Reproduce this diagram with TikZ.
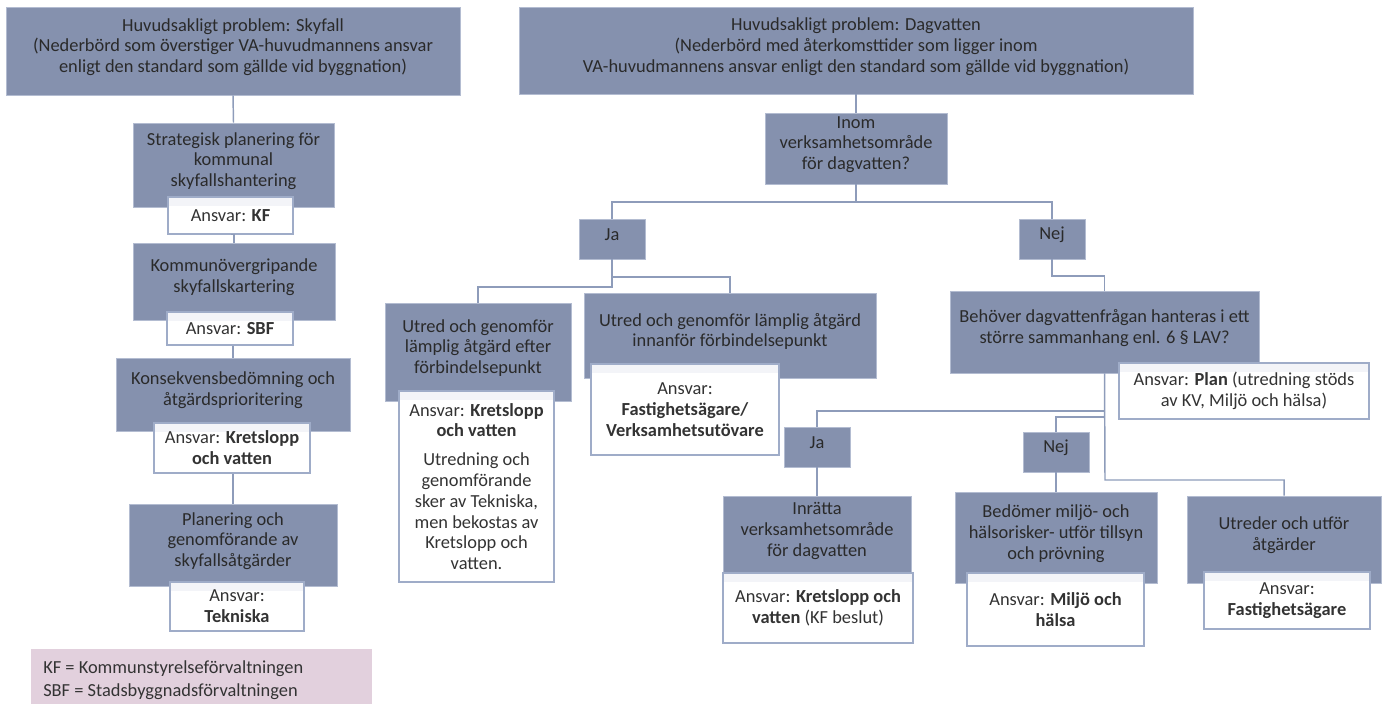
\documentclass[tikz,border=0pt]{standalone}
\usepackage{fontspec}
\setmainfont{Carlito}
\definecolor{boxblue}{HTML}{8591AE}
\definecolor{boxedge}{HTML}{B3BCD1}
\definecolor{linecol}{HTML}{8E9CBA}
\definecolor{whiteedge}{HTML}{9FACC8}
\definecolor{bandcol}{HTML}{F3F4F8}
\definecolor{legendcol}{HTML}{E2D0DD}
\definecolor{txtdark}{HTML}{2A2A2A}
\definecolor{txtgray}{HTML}{333333}
\tikzset{
  bluebox/.style={draw=boxedge, line width=0.6pt, fill=boxblue, inner sep=0pt, rectangle},
  whitebox/.style={draw=whiteedge, line width=1.1pt, fill=white, inner sep=0pt, rectangle,
    path picture={\fill[bandcol] (path picture bounding box.north west) rectangle ([yshift=-7pt]path picture bounding box.north east);}},
  legendbox/.style={draw=none, fill=legendcol, inner sep=0pt, rectangle},
  btext/.style={align=center, yshift=3pt, inner sep=0pt, text=txtdark, font=\fontsize{13.8}{15.6}\selectfont},
  wtext/.style={align=center, inner sep=0pt, text=txtgray, font=\fontsize{13.8}{15.6}\selectfont},
  ltext/.style={align=left, inner sep=0pt, text=txtgray, font=\fontsize{13.8}{17}\selectfont},
  conn/.style={draw=linecol, line width=1.1pt},
}
% #1 box style, #2 text style, #3 name, #4 x1, #5 y1, #6 x2, #7 y2, #8 text
\newcommand\mkbox[8]{%
  \node[#1, minimum width={(#6-#4)*0.75pt}, minimum height={(#7-#5)*0.75pt},
        label={[#2]center:{#8}}] (#3) at ({(#4+#6)/2},{(#5+#7)/2}) {};}
\begin{document}
\begin{tikzpicture}[x=0.75pt,y=-0.75pt]
\useasboundingbox (0,0) rectangle (1387,704);

% ---------- coordinates for branch points ----------
\coordinate (b1) at (856,202);
\coordinate (ja1r) at (612,277);
\coordinate (ja1l) at (612,287);
\coordinate (n1) at (1052,276);
\coordinate (bj) at (1105,411);
\coordinate (bn) at (1105,417);
\coordinate (bq) at (1105,480);

% ---------- left column boxes (blue) ----------
\mkbox{bluebox}{btext}{sky}{6}{7}{460}{95}{Huvudsakligt problem: Skyfall\\(Nederbörd som överstiger VA-huvudmannens ansvar\\enligt den standard som gällde vid byggnation)}
\mkbox{bluebox}{btext}{strat}{133}{123}{334}{207}{Strategisk planering för\\kommunal\\skyfallshantering}
\mkbox{bluebox}{btext}{kom}{133}{243}{335}{320}{Kommunövergripande\\skyfallskartering}
\mkbox{bluebox}{btext}{kons}{116}{358}{350}{431}{Konsekvensbedömning och\\åtgärdsprioritering}
\mkbox{bluebox}{btext}{plan}{129}{504}{337}{586}{Planering och\\genomförande av\\skyfallsåtgärder}

% ---------- right part boxes (blue) ----------
\mkbox{bluebox}{btext}{dag}{519}{7}{1193}{94}{Huvudsakligt problem: Dagvatten\\(Nederbörd med återkomsttider som ligger inom\\VA-huvudmannens ansvar enligt den standard som gällde vid byggnation)}
\mkbox{bluebox}{btext}{inom}{765}{113}{947}{184}{Inom\\verksamhetsområde\\för dagvatten?}
\mkbox{bluebox}{btext}{ja1}{579}{219}{645}{259}{Ja}
\mkbox{bluebox}{btext}{nej1}{1019}{219}{1085}{259}{Nej}
\mkbox{bluebox}{btext}{utefter}{385}{303}{571}{401}{Utred och genomför\\lämplig åtgärd efter\\förbindelsepunkt}
\mkbox{bluebox}{btext}{utinn}{584}{293}{876}{378}{Utred och genomför lämplig åtgärd\\innanför förbindelsepunkt}
\mkbox{bluebox}{btext}{beh}{950}{291}{1259}{373}{Behöver dagvattenfrågan hanteras i ett\\större sammanhang enl. 6 § LAV?}
\mkbox{bluebox}{btext}{ja2}{784}{427}{850}{467}{Ja}
\mkbox{bluebox}{btext}{nej2}{1023}{432}{1089}{472}{Nej}
\mkbox{bluebox}{btext}{inr}{723}{496}{911}{574}{Inrätta\\verksamhetsområde\\för dagvatten}
\mkbox{bluebox}{btext}{bed}{955}{492}{1157}{583}{Bedömer miljö- och\\hälsorisker- utför tillsyn\\och prövning}
\mkbox{bluebox}{btext}{utr}{1187}{496}{1381}{583}{Utreder och utför\\åtgärder}

% ---------- connectors ----------
\draw[conn] (sky.south) -- (strat.north);
\draw[conn] (dag.south) -- (inom.north);
\draw[conn] (inom.south) -- (b1);
\draw[conn] (ja1.north) |- (b1) -| (nej1.north);
\draw[conn] (ja1.south) -- (ja1l) -| (utefter.north);
\draw[conn] (ja1r) -| (utinn.north);
\draw[conn] (nej1.south) -- (n1) -| (beh.north);
\draw[conn] (beh.south) -- (bq) -| (utr.north);
\draw[conn] (bj) -| (ja2.north);
\draw[conn] (bn) -| (nej2.north);
\draw[conn] (ja2.south) -- (inr.north);
\draw[conn] (nej2.south) -- (bed.north);

% ---------- white responsibility boxes ----------
\mkbox{whitebox}{wtext}{kf}{168}{197}{293}{234}{Ansvar: \textbf{KF}}
\mkbox{whitebox}{wtext}{sbf}{167}{312}{293}{345}{Ansvar: \textbf{SBF}}
\mkbox{whitebox}{wtext}{kv1}{154}{423}{310}{473}{Ansvar: \textbf{Kretslopp}\\\textbf{och vatten}}
\mkbox{whitebox}{wtext}{tek}{170}{582}{304}{631}{Ansvar:\\\textbf{Tekniska}}
\draw[conn] (kf.south) -- (kom.north |- kf.south) -- (kom.north);
\draw[conn] (kons.north |- sbf.south) -- (kons.north);
\draw[conn] (plan.north |- kv1.south) -- (plan.north);

\mkbox{whitebox}{wtext}{kv2}{399}{391}{554}{582}{Ansvar: \textbf{Kretslopp}\\\textbf{och vatten}\\[6pt]Utredning och\\genomförande\\sker av Tekniska,\\men bekostas av\\Kretslopp och\\vatten.}
\mkbox{whitebox}{wtext}{fast1}{591}{364}{779}{455}{Ansvar:\\\textbf{Fastighetsägare/}\\\textbf{Verksamhetsutövare}}
\mkbox{whitebox}{wtext}{planw}{1119}{363}{1369}{419}{Ansvar: \textbf{Plan} (utredning stöds\\av KV, Miljö och hälsa)}
\mkbox{whitebox}{wtext}{kv3}{723}{573}{913}{643}{Ansvar: \textbf{Kretslopp och}\\\textbf{vatten} (KF beslut)}
\mkbox{whitebox}{wtext}{mh}{967}{573}{1144}{646}{Ansvar: \textbf{Miljö och}\\\textbf{hälsa}}
\mkbox{whitebox}{wtext}{fast2}{1204}{572}{1370}{629}{Ansvar:\\\textbf{Fastighetsägare}}

% ---------- legend ----------
\node[legendbox, minimum width={341*0.75pt}, minimum height={55*0.75pt}] (legend) at (201.5,676.5) {};
\node[ltext, anchor=west] (legendtext) at (43,680) {KF = Kommunstyrelseförvaltningen\\SBF = Stadsbyggnadsförvaltningen};
\end{tikzpicture}
\end{document}
